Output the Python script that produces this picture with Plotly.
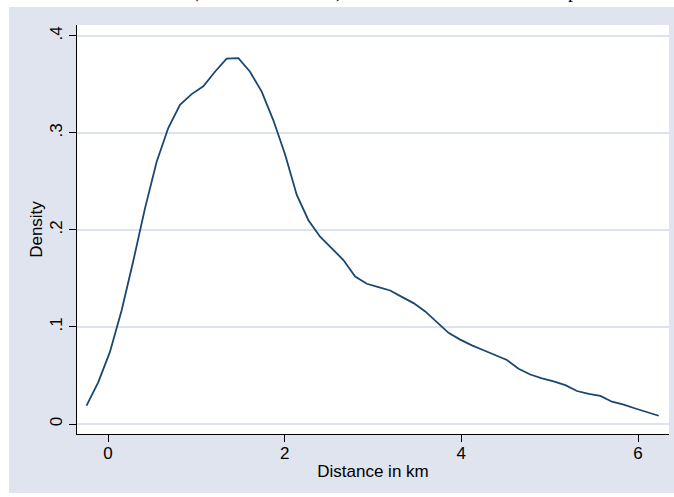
import plotly.graph_objects as go

# Kernel density estimate: evaluation points (km) and density values
distance_km = [-0.243, -0.111, 0.021, 0.154, 0.286, 0.418, 0.550, 0.682, 0.815, 0.947,
               1.079, 1.211, 1.343, 1.476, 1.608, 1.740, 1.872, 2.004, 2.137, 2.269,
               2.401, 2.533, 2.665, 2.798, 2.930, 3.062, 3.194, 3.326, 3.459, 3.591,
               3.723, 3.855, 3.987, 4.120, 4.252, 4.384, 4.516, 4.648, 4.781, 4.913,
               5.045, 5.177, 5.309, 5.442, 5.574, 5.706, 5.838, 5.970, 6.103, 6.235]
density = [0.019, 0.043, 0.074, 0.117, 0.168, 0.222, 0.270, 0.305, 0.329, 0.340,
           0.348, 0.363, 0.3765, 0.377, 0.363, 0.3425, 0.313, 0.278, 0.236, 0.210,
           0.193, 0.181, 0.169, 0.152, 0.1445, 0.141, 0.1376, 0.131, 0.1246, 0.116,
           0.105, 0.094, 0.087, 0.081, 0.076, 0.071, 0.066, 0.057, 0.051, 0.047,
           0.044, 0.040, 0.034, 0.031, 0.029, 0.023, 0.020, 0.016, 0.012, 0.0085]

x_ticks = [0, 2, 4, 6]
x_ticktext = ["0", "2", "4", "6"]
y_ticks = [0, 0.1, 0.2, 0.3, 0.4]
y_ticktext = ["0", ".1", ".2", ".3", ".4"]

x_title = "Distance in km"
y_title = "Density"

W, H = 674, 497
L, R, T, B = 77, 5, 25, 63
PW, PH = W - L - R, H - T - B

BLUISH = "#DFE4EE"
GRID = "#DCE3EF"
NAVY = "#1A476F"
FONT = "Liberation Sans, Arial, sans-serif"

def px_x(p):
    return (p - L) / PW

def px_y(p):
    return 1 - (p - T) / PH

fig = go.Figure()
fig.add_trace(go.Scatter(x=distance_km, y=density, mode="lines",
                         line=dict(color=NAVY, width=1.8), showlegend=False,
                         hoverinfo="skip"))

shapes = [
    # white outer strips (top, left, bottom)
    dict(type="rect", xref="paper", yref="paper", x0=px_x(-2), x1=px_x(W + 2), y0=px_y(7), y1=px_y(-2),
         fillcolor="white", line=dict(width=0), layer="above"),
    dict(type="rect", xref="paper", yref="paper", x0=px_x(-2), x1=px_x(9), y0=px_y(H + 2), y1=px_y(-2),
         fillcolor="white", line=dict(width=0), layer="above"),
    dict(type="rect", xref="paper", yref="paper", x0=px_x(-2), x1=px_x(W + 2), y0=px_y(H + 2), y1=px_y(493),
         fillcolor="white", line=dict(width=0), layer="above"),
]

annotations = []
for txt, xp in [("(", 195), (")", 339), ("p", 573)]:
    annotations.append(dict(text=txt, xref="paper", yref="paper", x=px_x(xp), y=px_y(-10),
                            xanchor="center", yanchor="middle", showarrow=False,
                            font=dict(family="Liberation Serif, Times New Roman, serif",
                                      size=20, color="black"),
                            ))

fig.update_layout(
    width=W, height=H,
    margin=dict(l=L, r=R, t=T, b=B, pad=0),
    paper_bgcolor=BLUISH,
    plot_bgcolor="white",
    font=dict(family=FONT, size=17, color="black"),
    shapes=shapes,
    annotations=annotations,
    xaxis=dict(range=[-0.351, 6.351], tickvals=x_ticks, ticktext=x_ticktext,
               showgrid=False, zeroline=False, showline=True, linecolor="black", linewidth=1,
               ticks="outside", ticklen=7, tickwidth=1, tickcolor="black",
               ticklabelstandoff=-3,
               tickfont=dict(size=17), title=dict(text=x_title, font=dict(size=17), standoff=2)),
    yaxis=dict(range=[-0.0103, 0.4112], tickvals=y_ticks, ticktext=y_ticktext,
               showgrid=True, gridcolor=GRID, gridwidth=1.6, zeroline=False,
               showline=True, linecolor="black", linewidth=1,
               ticks="outside", ticklen=7, tickwidth=1, tickcolor="black", tickangle=-90,
               tickfont=dict(size=17), title=dict(text=y_title, font=dict(size=17), standoff=0)),
)

fig.write_html("out.html")
